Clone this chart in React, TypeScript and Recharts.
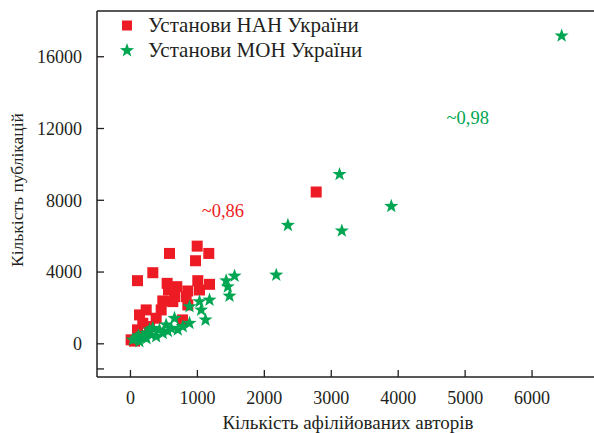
import React from 'react';
import {
  ScatterChart,
  Scatter,
  XAxis,
  YAxis,
  Label,
  ReferenceLine,
  ReferenceDot,
} from 'recharts';

// [authors, publications]
const NAN_POINTS: [number, number][] = [
  [997, 5444], [583, 5037], [1170, 5037], [972, 4630], [334, 3963],
  [105, 3519], [548, 3370], [692, 3185], [1006, 3519], [1181, 3315],
  [857, 2944], [568, 3000], [1031, 3000], [658, 2630], [832, 2630],
  [483, 2389], [633, 2352], [857, 2167], [459, 1889], [235, 1889],
  [135, 1611], [384, 1426], [184, 1148], [284, 963], [10, 222],
  [777, 1333], [105, 778], [160, 450], [60, 150], [2775, 8461],
];

const MON_POINTS: [number, number][] = [
  [6442, 17167], [3124, 9444], [3897, 7667], [2352, 6611], [3158, 6296],
  [2178, 3833], [1555, 3778], [1430, 3519], [1455, 3185], [1480, 2667],
  [1181, 2444], [1031, 2352], [882, 2074], [1056, 1889], [1121, 1333],
  [882, 1148], [658, 1426], [707, 778], [533, 1056], [608, 870],
  [433, 778], [284, 778], [309, 500], [184, 407], [85, 315],
  [35, 222], [384, 407], [234, 593], [134, 130], [483, 593],
  [782, 963], [334, 870], [240, 300], [120, 450], [560, 700],
];

const X_TICKS = [0, 1000, 2000, 3000, 4000, 5000, 6000];
const Y_TICKS = [-1400, 0, 4000, 8000, 12000, 16000];
const X_DOMAIN: [number, number] = [-500, 7000];
const Y_DOMAIN: [number, number] = [-1850, 18550];

const SERIES_NAMES = ['Установи НАН України', 'Установи МОН України'];

const ANNOTATIONS = [
  { x: 1380, y: 7450, text: '~0,86', color: '#ed1c24' },
  { x: 5040, y: 12610, text: '~0,98', color: '#00a651' },
];

const RED = '#ed1c24';
const GREEN = '#00a651';
const INK = '#231f20';
const FONT = 'Liberation Serif, Times New Roman, serif';

const nanData = NAN_POINTS.map(([x, y]) => ({ x, y }));
const monData = MON_POINTS.map(([x, y]) => ({ x, y }));

function starPoints(cx: number, cy: number, outer: number, inner: number) {
  const pts: string[] = [];
  for (let i = 0; i < 10; i++) {
    const r = i % 2 === 0 ? outer : inner;
    const a = -Math.PI / 2 + (i * Math.PI) / 5;
    pts.push(`${cx + r * Math.cos(a)},${cy + r * Math.sin(a)}`);
  }
  return pts.join(' ');
}

const SquareShape = (props: any) => {
  const { cx, cy } = props;
  return <rect x={cx - 5.5} y={cy - 5.5} width={11} height={11} fill={RED} />;
};

const StarShape = (props: any) => {
  const { cx, cy } = props;
  return <polygon points={starPoints(cx, cy, 7.4, 3)} fill={GREEN} />;
};

const XTick = (props: any) => {
  const { x, y, payload } = props;
  const axisY = y - 14;
  return (
    <g>
      <line x1={x} y1={axisY} x2={x} y2={axisY - 7} stroke={INK} strokeWidth={1.3} />
      <text x={x} y={y} dy="0.71em" textAnchor="middle" fill={INK} fontSize={18} style={{ fontFamily: FONT }}>
        {payload.value}
      </text>
    </g>
  );
};

const YTick = (props: any) => {
  const { x, y, payload } = props;
  const axisX = x + 15;
  return (
    <g>
      <line x1={axisX} y1={y} x2={axisX + 7} y2={y} stroke={INK} strokeWidth={1.3} />
      {payload.value >= 0 && (
        <text x={x} y={y} dy="0.355em" textAnchor="end" fill={INK} fontSize={18} style={{ fontFamily: FONT }}>
          {payload.value}
        </text>
      )}
    </g>
  );
};

function LegendBox() {
  const row: React.CSSProperties = {
    display: 'flex',
    alignItems: 'center',
    height: 25,
    fontFamily: FONT,
    fontSize: 21,
    color: INK,
    whiteSpace: 'nowrap',
  };
  return (
    <div style={{ position: 'absolute', left: 119, top: 13 }}>
      <div style={row}>
        <svg width={22} height={25} style={{ marginRight: 7 }}>
          <rect x={3} y={7.5} width={10} height={10} fill={RED} />
        </svg>
        {SERIES_NAMES[0]}
      </div>
      <div style={row}>
        <svg width={22} height={25} style={{ marginRight: 7 }}>
          <polygon points={starPoints(8, 12.5, 7.4, 3)} fill={GREEN} />
        </svg>
        {SERIES_NAMES[1]}
      </div>
    </div>
  );
}

export default function App() {
  return (
    <div style={{ position: 'absolute', left: 0, top: 0, width: 594, height: 433, overflow: 'hidden', background: '#fff' }}>
      <ScatterChart width={600} height={433} margin={{ top: 11, right: 1, bottom: 0, left: 0 }}>
        <XAxis
          type="number"
          dataKey="x"
          domain={X_DOMAIN}
          ticks={X_TICKS}
          allowDataOverflow
          height={56}
          tickSize={0}
          tickMargin={14}
          tickLine={false}
          tick={<XTick />}
          axisLine={{ stroke: INK, strokeWidth: 1.5 }}
        >
          <Label
            content={({ viewBox }: any) => (
              <text
                x={viewBox.x + viewBox.width / 2}
                y={viewBox.y + viewBox.height - 4}
                textAnchor="middle"
                fill={INK}
                fontSize={19}
                style={{ fontFamily: FONT }}
              >
                Кількість афілійованих авторів
              </text>
            )}
          />
        </XAxis>
        <YAxis
          type="number"
          dataKey="y"
          domain={Y_DOMAIN}
          ticks={Y_TICKS}
          allowDataOverflow
          width={97}
          tickSize={0}
          tickMargin={15}
          tickLine={false}
          tick={<YTick />}
          axisLine={{ stroke: INK, strokeWidth: 1.5 }}
        >
          <Label
            content={() => {
              const cx = 17;
              const cy = 190;
              return (
                <text
                  x={cx}
                  y={cy}
                  transform={`rotate(-90 ${cx} ${cy})`}
                  textAnchor="middle"
                  dominantBaseline="central"
                  fill={INK}
                  fontSize={17.5}
                  style={{ fontFamily: FONT }}
                >
                  Кількість публікацій
                </text>
              );
            }}
          />
        </YAxis>
        <ReferenceLine y={Y_DOMAIN[1]} stroke={INK} strokeWidth={1.5} />
        <Scatter name={SERIES_NAMES[0]} data={nanData} shape={<SquareShape />} isAnimationActive={false} />
        <Scatter name={SERIES_NAMES[1]} data={monData} shape={<StarShape />} isAnimationActive={false} />
        {ANNOTATIONS.map((a) => (
          <ReferenceDot
            key={a.text}
            x={a.x}
            y={a.y}
            r={0}
            stroke="none"
            label={{ value: a.text, position: 'center', fill: a.color, fontSize: 18.5, style: { fontFamily: FONT } }}
          />
        ))}
      </ScatterChart>
      <LegendBox />
    </div>
  );
}
